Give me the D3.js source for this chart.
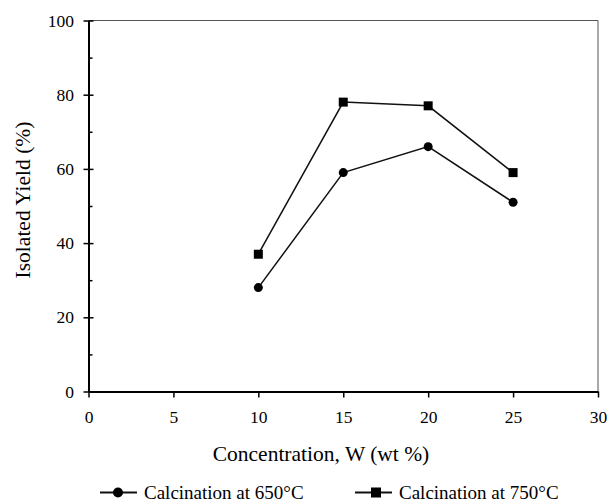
<!DOCTYPE html>
<html>
<head>
<meta charset="utf-8">
<script src="https://cdnjs.cloudflare.com/ajax/libs/d3/7.8.5/d3.min.js"></script>
<style>
  body { margin: 0; background: #fff; }
</style>
</head>
<body>
<script>
// data
var concentration = [10, 15, 20, 25];
var yield650 = [28, 59, 66, 51];
var yield750 = [37, 78, 77, 59];
var seriesNames = ["Calcination at 650\u00B0C", "Calcination at 750\u00B0C"];
var xTicks = [0, 5, 10, 15, 20, 25, 30];
var yTicks = [0, 20, 40, 60, 80, 100];
var yMinorTicks = [10, 30, 50, 70, 90];

var serif = "'Liberation Serif', 'Times New Roman', serif";

var width = 610, height = 501,
    margin = {top: 20.5, right: 12, bottom: 109.5, left: 88.5},
    w = width - margin.left - margin.right,
    h = height - margin.top - margin.bottom;

var svg = d3.select("body").append("svg")
    .attr("width", width)
    .attr("height", height);

var g = svg.append("g")
    .attr("transform", "translate(" + margin.left + "," + margin.top + ")");

// Set scales
var x = d3.scaleLinear().domain([0, 30]).range([0, w]),
    y = d3.scaleLinear().domain([0, 100]).range([h, 0]);

// frame on top and right (thin)
g.append("line").attr("x1", 0).attr("x2", w).attr("y1", 0).attr("y2", 0)
    .attr("stroke", "#555").attr("stroke-width", 1);
g.append("line").attr("x1", w).attr("x2", w).attr("y1", 0).attr("y2", h)
    .attr("stroke", "#555").attr("stroke-width", 1);

// minor y ticks, inside only
g.append("g")
    .call(d3.axisRight(y).tickValues(yMinorTicks).tickSize(4).tickFormat(""))
    .call(function(a) { a.select(".domain").remove(); })
    .selectAll("line").attr("stroke-width", 1.5);

// Add the Y Axis
var yAxis = g.append("g")
    .call(d3.axisLeft(y).tickValues(yTicks).tickSizeInner(5).tickSizeOuter(0).tickPadding(9.5));
yAxis.selectAll(".tick line").attr("x2", 5).attr("x1", -5).attr("stroke-width", 1.5);
yAxis.select(".domain").attr("stroke-width", 2);
yAxis.selectAll("text").style("font-size", "17.5px").style("font-family", serif);

// Add the X Axis
var xAxis = g.append("g")
    .attr("transform", "translate(0," + h + ")")
    .call(d3.axisBottom(x).tickValues(xTicks).tickSizeInner(6).tickSizeOuter(0).tickPadding(13));
xAxis.selectAll(".tick line").attr("stroke-width", 1.5);
xAxis.select(".domain").attr("stroke-width", 2);
xAxis.selectAll("text").style("font-size", "17.5px").style("font-family", serif);

// axis titles
svg.append("text")
    .attr("x", 321)
    .attr("y", 461)
    .attr("text-anchor", "middle")
    .style("font-size", "21.5px")
    .style("font-family", serif)
    .text("Concentration, W (wt %)");

svg.append("text")
    .attr("transform", "translate(30,200) rotate(-90)")
    .attr("text-anchor", "middle")
    .style("font-size", "21.5px")
    .style("font-family", serif)
    .text("Isolated Yield (%)");

// lines
var line = d3.line()
    .x(function(d) { return x(d[0]); })
    .y(function(d) { return y(d[1]); });

var s650 = concentration.map(function(c, i) { return [c, yield650[i]]; });
var s750 = concentration.map(function(c, i) { return [c, yield750[i]]; });

g.append("path").datum(s650).attr("d", line)
    .attr("fill", "none").attr("stroke", "#111").attr("stroke-width", 1.5);
g.append("path").datum(s750).attr("d", line)
    .attr("fill", "none").attr("stroke", "#111").attr("stroke-width", 1.5);

// markers
g.selectAll(".circ").data(s650).enter().append("circle")
    .attr("cx", function(d) { return x(d[0]); })
    .attr("cy", function(d) { return y(d[1]); })
    .attr("r", 4.5).attr("fill", "#000");

g.selectAll(".sq").data(s750).enter().append("rect")
    .attr("x", function(d) { return x(d[0]) - 4.5; })
    .attr("y", function(d) { return y(d[1]) - 4.5; })
    .attr("width", 9).attr("height", 9).attr("fill", "#000");

// legend
var legend = svg.append("g").attr("transform", "translate(0,492.5)");
var items = legend.selectAll("g").data(seriesNames).enter().append("g")
    .attr("transform", function(d, i) { return "translate(" + (100 + i * 255) + ",0)"; });
items.append("line").attr("x1", 0).attr("x2", 37).attr("y1", 0).attr("y2", 0)
    .attr("stroke", "#111").attr("stroke-width", 2);
items.each(function(d, i) {
    var it = d3.select(this);
    if (i === 0) {
        it.append("circle").attr("cx", 18).attr("cy", 0).attr("r", 5).attr("fill", "#000");
    } else {
        it.append("rect").attr("x", 16).attr("y", -5).attr("width", 10).attr("height", 10).attr("fill", "#000");
    }
});
items.append("text").attr("x", 44).attr("y", 6)
    .style("font-size", "19px")
    .style("font-family", serif)
    .text(function(d) { return d; });
</script>
</body>
</html>
